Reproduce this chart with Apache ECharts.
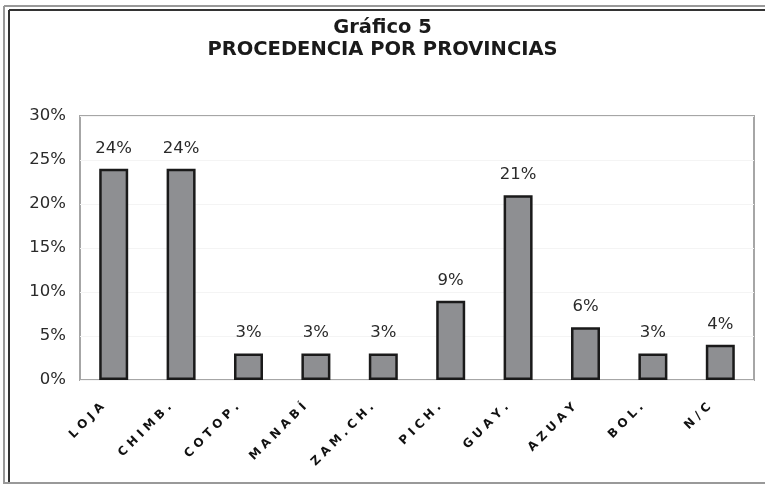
<!DOCTYPE html>
<html><head><meta charset="utf-8">
<script src="https://cdn.jsdelivr.net/npm/echarts@6/dist/echarts.min.js"></script>
<style>html,body{margin:0;padding:0;background:#fff}#c{width:765px;height:484px}</style>
</head><body><div id="c"></div>
<script>
const categories = ["LOJA", "CHIMB.", "COTOP.", "MANABÍ", "ZAM.CH.", "PICH.", "GUAY.", "AZUAY", "BOL.", "N/C"];
const values = [24, 24, 3, 3, 3, 9, 21, 6, 3, 4];
const yTicks = [0, 5, 10, 15, 20, 25, 30];
const titleLine1 = "Gráfico 5";
const titleLine2 = "PROCEDENCIA POR PROVINCIAS";

const chart = echarts.init(document.getElementById('c'));
chart.setOption({
  animation: false,
  backgroundColor: '#fff',
  title: {
    text: titleLine1 + '\n' + titleLine2,
    left: 'center', top: 12,
    textStyle: { fontFamily: 'DejaVu Sans', fontWeight: 'bold', fontSize: 19.5, lineHeight: 22, color: '#1a1a1a' }
  },
  graphic: [
    { type: 'line', shape: { x1: 4, y1: 6, x2: 765, y2: 6 }, style: { stroke: '#999', lineWidth: 2 } },
    { type: 'line', shape: { x1: 4, y1: 6, x2: 4, y2: 484 }, style: { stroke: '#999', lineWidth: 2 } },
    { type: 'line', shape: { x1: 9, y1: 10, x2: 765, y2: 10 }, style: { stroke: '#333', lineWidth: 2 } },
    { type: 'line', shape: { x1: 9, y1: 10, x2: 9, y2: 484 }, style: { stroke: '#333', lineWidth: 2 } },
    { type: 'line', shape: { x1: 4, y1: 483, x2: 765, y2: 483 }, style: { stroke: '#999', lineWidth: 2 } }
  ],
  grid: { left: 80, right: 11, top: 116, bottom: 104, show: true, borderColor: '#a6a6a6', borderWidth: 2 },
  xAxis: {
    type: 'category', data: categories,
    axisLine: { show: false }, axisTick: { show: false },
    axisLabel: {
      rotate: 45, fontSize: 12, fontWeight: 'bold', fontFamily: 'DejaVu Sans', color: '#111', margin: 14, interval: 0,
      padding: [0, 16, 0, 0],
      formatter: v => v.split('').join(' ')
    }
  },
  yAxis: {
    type: 'value', min: yTicks[0], max: yTicks[yTicks.length - 1], interval: 5,
    axisLine: { show: false }, axisTick: { show: false },
    splitLine: { show: true, lineStyle: { color: '#f4f4f4', width: 1 } },
    axisLabel: { formatter: '{value}%', fontSize: 16.5, fontFamily: 'DejaVu Sans', color: '#2a2a2a', margin: 14 }
  },
  series: [{
    type: 'bar', data: values, barWidth: '43%',
    itemStyle: { color: '#8e8f92', borderColor: '#1a1a1a', borderWidth: 2.5 },
    label: { show: true, position: 'top', distance: 12, formatter: '{c}%', fontSize: 16.5, fontFamily: 'DejaVu Sans', color: '#2a2a2a' }
  }]
});
</script></body></html>
